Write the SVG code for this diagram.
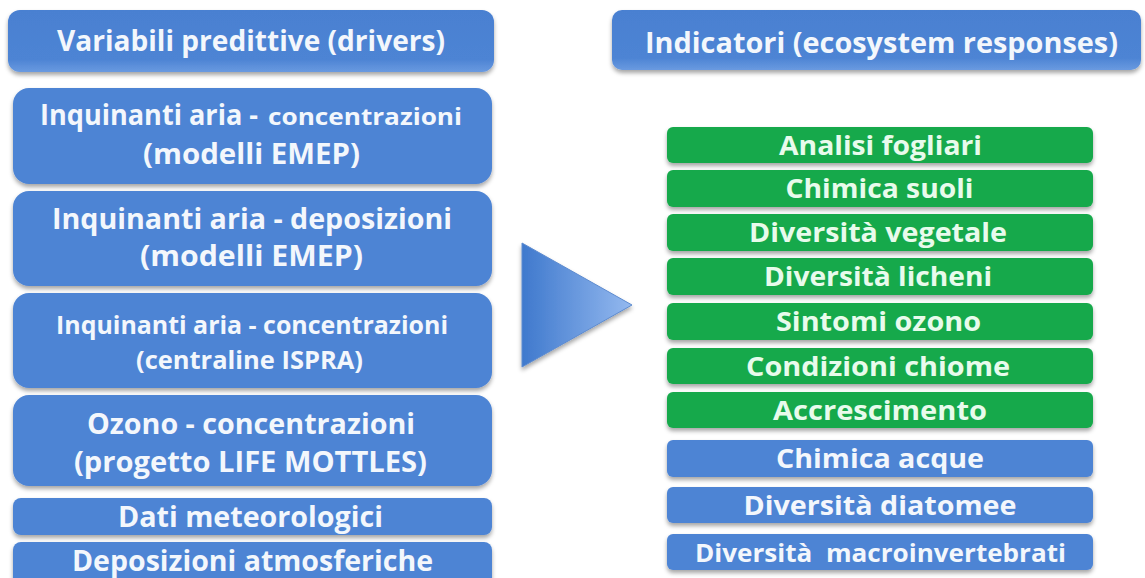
<svg xmlns="http://www.w3.org/2000/svg" width="1145" height="578" viewBox="0 0 1145 578">
  <defs>
    <filter id="shadow" x="-5%" y="-20%" width="110%" height="160%">
      <feDropShadow dx="0" dy="3" stdDeviation="2" flood-color="#000000" flood-opacity="0.35"/>
    </filter>
    <linearGradient id="hdrFill" x1="0" y1="0" x2="0" y2="1">
      <stop offset="0" stop-color="#4a80d1"/>
      <stop offset="0.8" stop-color="#4d84d4"/>
      <stop offset="1" stop-color="#6a9ae0"/>
    </linearGradient>
    <linearGradient id="arrowFill" x1="0" y1="0" x2="1" y2="0">
      <stop offset="0" stop-color="#3f79cd"/>
      <stop offset="1" stop-color="#94b9ef"/>
    </linearGradient>
    <style>
      .blue { fill: #4d84d4; filter: url(#shadow); }
      .hdr { fill: url(#hdrFill); filter: url(#shadow); }
      .green { fill: #17a94b; filter: url(#shadow); }
      text { font-family: "Open Sans", "Noto Sans", "Liberation Sans", sans-serif; font-weight: 700; }
      .tb { fill: #f3f7fc; }
      .tg { fill: #e8fbec; }
      .c { text-anchor: middle; }
      .l { text-anchor: start; }
    </style>
  </defs>

  <rect width="1145" height="578" fill="#ffffff"/>

  <!-- left column: predictive variables -->
  <g id="drivers-header">
    <rect class="hdr" x="8" y="10" width="486" height="62" rx="12"/>
    <text class="tb c" x="251" y="51" font-size="29" textLength="388" lengthAdjust="spacingAndGlyphs">Variabili predittive (drivers)</text>
  </g>

  <g id="driver-emep-conc">
    <rect class="blue" x="13" y="88" width="479" height="96" rx="16"/>
    <text class="tb l" y="125"><tspan x="40" font-size="28.5" textLength="218" lengthAdjust="spacingAndGlyphs">Inquinanti aria -</tspan><tspan x="268" font-size="24" textLength="194" lengthAdjust="spacingAndGlyphs">concentrazioni</tspan></text>
    <text class="tb c" x="251.5" y="164" font-size="28.5" textLength="217" lengthAdjust="spacingAndGlyphs">(modelli EMEP)</text>
  </g>

  <g id="driver-emep-dep">
    <rect class="blue" x="13" y="191" width="479" height="95" rx="16"/>
    <text class="tb c" x="252" y="229" font-size="28.5" textLength="400" lengthAdjust="spacingAndGlyphs">Inquinanti aria - deposizioni</text>
    <text class="tb c" x="251.5" y="266" font-size="28.5" textLength="223" lengthAdjust="spacingAndGlyphs">(modelli EMEP)</text>
  </g>

  <g id="driver-ispra">
    <rect class="blue" x="13" y="293" width="479" height="95" rx="16"/>
    <text class="tb c" x="252" y="334" font-size="24.5" textLength="392" lengthAdjust="spacingAndGlyphs">Inquinanti aria - concentrazioni</text>
    <text class="tb c" x="249.5" y="369" font-size="24.5" textLength="227" lengthAdjust="spacingAndGlyphs">(centraline ISPRA)</text>
  </g>

  <g id="driver-ozone">
    <rect class="blue" x="13" y="395" width="479" height="91" rx="16"/>
    <text class="tb c" x="251" y="434" font-size="28.5" textLength="328" lengthAdjust="spacingAndGlyphs">Ozono - concentrazioni</text>
    <text class="tb c" x="250.5" y="472" font-size="28.5" textLength="353" lengthAdjust="spacingAndGlyphs">(progetto LIFE MOTTLES)</text>
  </g>

  <g id="driver-meteo">
    <rect class="blue" x="13" y="498" width="479" height="37" rx="8"/>
    <text class="tb c" x="250.5" y="527" font-size="28" textLength="265" lengthAdjust="spacingAndGlyphs">Dati meteorologici</text>
  </g>

  <g id="driver-deposition">
    <rect class="blue" x="13" y="542" width="479" height="48" rx="8"/>
    <text class="tb c" x="252.5" y="571" font-size="28" textLength="361" lengthAdjust="spacingAndGlyphs">Deposizioni atmosferiche</text>
  </g>

  <!-- flow arrow -->
  <g id="connectors">
    <polygon points="522,243 632,305 522,367" fill="url(#arrowFill)" stroke="#5d8bcf" stroke-width="1" stroke-linejoin="round" filter="url(#shadow)"/>
  </g>

  <!-- right column: indicators -->
  <g id="indicators-header">
    <rect class="hdr" x="612" y="10" width="529" height="60" rx="10"/>
    <text class="tb c" x="881.5" y="53" font-size="29" textLength="473" lengthAdjust="spacingAndGlyphs">Indicatori (ecosystem responses)</text>
  </g>

  <g id="ind-analisi-fogliari">
    <rect class="green" x="667" y="127" width="426" height="36" rx="6"/>
    <text class="tg c" x="880.5" y="155" font-size="27" textLength="203" lengthAdjust="spacingAndGlyphs">Analisi fogliari</text>
  </g>
  <g id="ind-chimica-suoli">
    <rect class="green" x="667" y="170" width="426" height="37" rx="6"/>
    <text class="tg c" x="879.5" y="198" font-size="27" textLength="188" lengthAdjust="spacingAndGlyphs">Chimica suoli</text>
  </g>
  <g id="ind-diversita-vegetale">
    <rect class="green" x="667" y="214" width="426" height="37" rx="6"/>
    <text class="tg c" x="878" y="242" font-size="27" textLength="258" lengthAdjust="spacingAndGlyphs">Diversità vegetale</text>
  </g>
  <g id="ind-diversita-licheni">
    <rect class="green" x="667" y="258" width="426" height="37" rx="6"/>
    <text class="tg c" x="878" y="286" font-size="27" textLength="228" lengthAdjust="spacingAndGlyphs">Diversità licheni</text>
  </g>
  <g id="ind-sintomi-ozono">
    <rect class="green" x="667" y="303" width="426" height="37" rx="6"/>
    <text class="tg c" x="878.5" y="331" font-size="27" textLength="205" lengthAdjust="spacingAndGlyphs">Sintomi ozono</text>
  </g>
  <g id="ind-condizioni-chiome">
    <rect class="green" x="667" y="348" width="426" height="36" rx="6"/>
    <text class="tg c" x="878" y="376" font-size="27" textLength="264" lengthAdjust="spacingAndGlyphs">Condizioni chiome</text>
  </g>
  <g id="ind-accrescimento">
    <rect class="green" x="667" y="392" width="426" height="36" rx="6"/>
    <text class="tg c" x="880" y="420" font-size="27" textLength="214" lengthAdjust="spacingAndGlyphs">Accrescimento</text>
  </g>
  <g id="ind-chimica-acque">
    <rect class="blue" x="667" y="440" width="426" height="37" rx="6"/>
    <text class="tb c" x="880" y="468" font-size="27" textLength="208" lengthAdjust="spacingAndGlyphs">Chimica acque</text>
  </g>
  <g id="ind-diversita-diatomee">
    <rect class="blue" x="667" y="487" width="426" height="36" rx="6"/>
    <text class="tb c" x="880" y="515" font-size="27" textLength="273" lengthAdjust="spacingAndGlyphs">Diversità diatomee</text>
  </g>
  <g id="ind-diversita-macroinvertebrati">
    <rect class="blue" x="667" y="534" width="426" height="36" rx="6"/>
    <text class="tb c" x="880.5" y="562" font-size="25" textLength="371" lengthAdjust="spacingAndGlyphs" xml:space="preserve">Diversità  macroinvertebrati</text>
  </g>
</svg>
